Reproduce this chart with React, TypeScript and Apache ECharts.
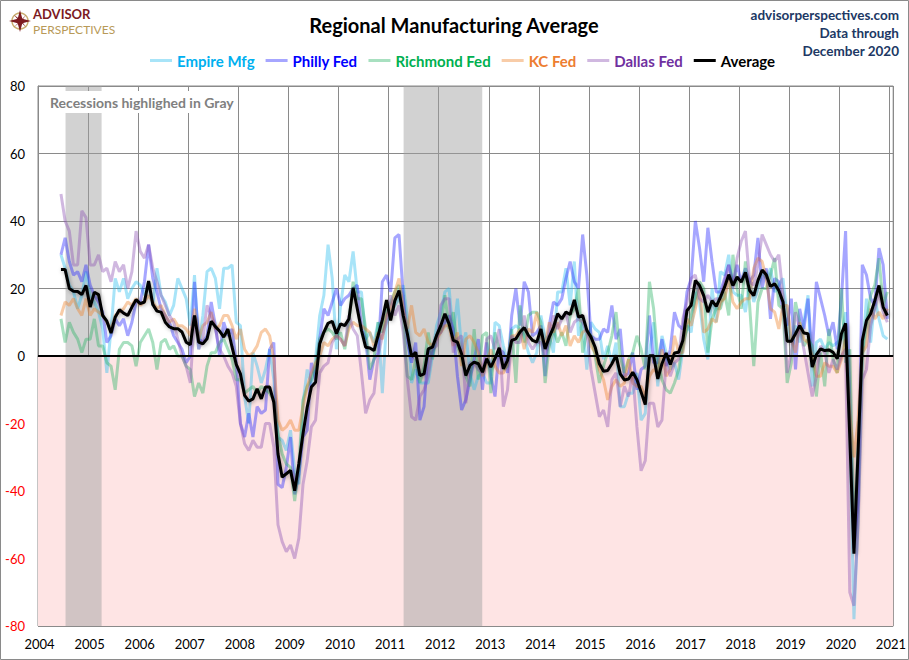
import React, { useEffect, useRef } from 'react';
import * as echarts from 'echarts';

// monthly survey readings, Jun 2004 .. Dec 2020
const empire = [
  30, 26, 21, 19, 14, 18, 25,
  18, 16, 13, 8, -5, 8, 23, 19, 23, 17, 20, 22,
  21, 18, 22, 15, 26, 18, 16, 12, 15, 23, 20, 17,
  9, 24, 2, 12, 25, 26, 23, 14, 26, 26, 27, 10,
  9, -12, -20, 1, -3, -8, -4, 2, -7, -24, -25, -28,
  -22, -34, -38, -14, -4, -9, -1, 12, 18, 33, 23, 2,
  15, 24, 22, 31, 19, 19, 5, 7, 4, 10, -11, 10,
  12, 15, 17, 21, 11, -8, -4, -8, -8, -8, 0, 9,
  13, 19, 20, 6, 17, 2, 7, -5, -10, -6, -5, -8,
  -8, 10, 9, 3, -2, 8, 9, 8, 6, 1, -2, 1,
  12, 5, 6, 1, 19, 19, 26, 15, 28, 6, 10, -4,
  10, 8, 7, -1, 3, -2, 4, -15, -15, -11, -11, -5,
  -19, -17, 1, 10, -9, 6, 1, -4, -2, -7, 2, 9,
  7, 19, 16, 5, -1, 20, 10, 25, 24, 30, 19, 18,
  18, 13, 22, 16, 20, 25, 23, 26, 19, 21, 23, 11,
  4, 9, 4, 10, 18, -9, 4, 5, 2, 4, 3, 4,
  5, 13, -22, -78, -48, 0, 17, 4, 17, 11, 6, 5,
];

const philly = [
  30, 35, 28, 24, 25, 22, 27,
  21, 18, 16, 13, 4, 6, 11, 9, 11, 6, 10, 16,
  16, 22, 33, 23, 19, 14, 12, 10, 6, 4, 2, -2,
  0, 22, 5, 4, 6, 16, 9, 0, 10, 6, 8, -2,
  -20, -24, -17, -24, -15, -17, -16, 2, 4, -38, -39, -33,
  -24, -41, -35, -24, -22, -2, -7, 5, 14, 12, 16, 20,
  15, 17, 18, 20, 21, 8, 5, -7, -1, 1, 22, 24,
  19, 35, 36, 18, 4, -2, 4, -19, -15, 2, 0, 6,
  7, 10, 12, 8, -6, -16, -13, -7, -1, 5, -10, 4,
  -6, -12, 2, 1, -5, 12, 20, 9, 22, 19, 6, 7,
  9, -6, 9, 16, 15, 17, 23, 28, 22, 20, 36, 24,
  6, 5, 5, 8, 7, 15, 5, 8, -6, -5, 1, -10,
  -4, -3, 12, -2, -2, 5, -3, 2, 13, 9, 8, 19,
  23, 40, 32, 22, 38, 28, 19, 19, 23, 27, 22, 27,
  22, 26, 22, 24, 35, 20, 26, 11, 23, 22, 13, 9,
  17, -4, 14, 8, 17, 0, 22, 17, 12, 6, 10, 2,
  17, 37, -13, -57, -43, 27, 24, 17, 15, 32, 27, 11,
];

const richmond = [
  11, 4, 10, 7, 5, 1, 5,
  5, 11, 3, 3, -2, -3, -10, 2, 4, 4, 3, -3,
  4, 6, 8, 4, -4, 4, 5, 2, 3, 0, 0, -3,
  -4, -12, -8, -11, -3, 1, 1, 4, 5, 2, -1, -7,
  -7, -11, -10, -9, -11, -9, -10, -11, -13, -23, -29, -32,
  -33, -43, -33, -13, -9, -7, -3, 5, 7, 8, 7, 5,
  7, 2, 10, 22, 17, 17, 8, -4, -1, 10, 7, 14,
  16, 19, 21, 10, -6, -7, -1, -8, -3, 7, -1, 6,
  8, 18, 8, 13, 3, -1, -6, -9, 8, -7, 6, 7,
  -11, 7, 2, -4, -3, 8, -8, 15, 4, 12, 13, 13,
  10, -8, 3, 8, 4, 7, 3, 12, 14, 20, 1, 7,
  6, 0, -8, -3, 1, 6, 13, 0, -5, -1, 1, 6,
  2, -4, 22, 14, -1, -7, -10, -11, -8, -4, 4, 8,
  12, 17, 22, 20, 1, 11, 14, 14, 19, 12, 30, 20,
  14, 28, 15, -3, 16, 20, 20, 24, 29, 15, 14, -8,
  -2, 16, 10, 3, 5, 3, -12, 1, -9, 8, -1, -5,
  20, -2, 2, -53, -27, 0, 10, 18, 21, 29, 15, 19,
];

const kc = [
  12, 16, 15, 17, 14, 12, 17,
  12, 14, 13, 12, 10, 8, 12, 13, 14, 16, 15, 17,
  15, 16, 18, 16, 14, 15, 12, 10, 11, 9, 9, 8,
  6, 14, 5, 9, 10, 13, 8, 9, 12, 12, 9, 5,
  8, 2, 0, 1, 3, 7, 8, 6, -1, -19, -22, -21,
  -19, -22, -22, -15, -9, -5, -2, 0, 4, 3, 5, 6,
  5, 3, 8, 10, 9, 9, 8, 7, 3, 7, 5, 12,
  14, 19, 23, 14, 8, 15, 7, 6, 8, 4, 3, 5,
  7, 9, 9, 3, 7, -3, 5, 6, 4, 1, -6, -2,
  2, -3, -5, -5, -2, 6, 6, 8, 2, 8, 7, 13,
  6, 3, 10, 7, 10, 6, 9, 3, 6, 4, 7, 8,
  3, 1, -4, -7, -13, -9, -7, -9, -8, -1, -8, -9,
  -9, -12, -6, -4, -5, 2, -6, -4, 6, 1, 1, 11,
  9, 14, 20, 7, 8, 11, 10, 16, 17, 23, 16, 14,
  16, 17, 17, 26, 29, 28, 23, 14, 13, 8, 15, 15,
  5, 1, 10, 5, 4, 0, -6, -6, -2, -3, -3, -5,
  -1, 5, -17, -30, -19, 1, 3, 14, 11, 13, 11, 14,
];

const dallas = [
  48, 40, 37, 27, 27, 43, 41,
  27, 27, 30, 25, 26, 22, 28, 25, 27, 20, 25, 37,
  31, 29, 33, 26, 22, 18, 15, 12, 10, 5, 0, -3,
  -8, 12, 2, 5, 15, 12, 8, 2, 0, -3, -5, -9,
  -20, -26, -28, -25, -27, -27, -20, -20, -27, -50, -55, -58,
  -56, -60, -54, -38, -31, -21, -19, -5, -3, -2, 4, 6,
  5, 3, 12, 8, 6, -5, -17, -13, -11, 0, 6, 10,
  18, 12, 15, 7, -7, -18, -19, -12, -10, -6, 2, 3,
  15, 17, 17, 1, 5, 6, -14, -2, -2, -4, -5, 5,
  6, 2, 8, -15, -10, 6, 4, 4, 12, 4, 2, 4,
  4, 0, 5, 12, 8, 11, 13, 7, 10, 11, 10, 7,
  -4, -11, -18, -16, -21, -7, -5, -15, -9, -12, -5, -21,
  -34, -31, -14, -14, -21, -19, -2, -6, -2, -1, 11, 16,
  23, 24, 17, 16, 18, 16, 17, 17, 22, 27, 20, 29,
  34, 37, 22, 21, 27, 36, 33, 30, 28, 30, 18, -5,
  1, 13, 8, 2, -5, -12, -6, 3, 1, -5, -1, -4,
  0, 2, -70, -74, -50, -7, -4, 9, 14, 19, 13, 10,
];

const average = [
  25.6, 25.6, 20, 19.2, 19.1, 18.2, 20.9,
  14.5, 18.9, 18.2, 12, 10.3, 6.8, 11.5, 13.7, 12.7, 12, 14.5, 16.7,
  15.5, 16, 22.2, 15.3, 13.3, 13, 10, 8.6, 8.1, 8.1, 7.1, 4.1,
  3.3, 12, 4.1, 3.6, 5.1, 10.3, 8.7, 7.4, 5.6, 8, 2.6, -2.5,
  -5.3, -11.7, -13.4, -12.7, -9.7, -12.7, -9.2, -9.2, -13.7, -29, -35.9, -34.9,
  -33.9, -39.9, -31.9, -23, -15.2, -9.2, -7.8, 3.6, 7.1, 9.7, 10.3, 6.6,
  9.5, 9, 11, 20.2, 14, 7.6, 2.6, 2.4, 1.6, 6.1, 10.7, 16.6,
  10.5, 16.4, 19.4, 12, 6.6, -0.1, 1.1, -5.8, -5.3, 2.1, 2.6, 6.1,
  9, 12.5, 9.5, 4.6, 4.1, 0.6, -5.8, -2.8, -1.8, -2.3, -4.8, -0.8,
  -3.3, -0.8, 2.4, -3.8, -1.3, 4.6, 5.1, 7.1, 8.4, 6.1, 4.6, 4.1,
  8, 2.1, 5.6, 8.5, 12.5, 11, 13, 12.3, 16.6, 11.5, 12, 7.6,
  5.6, 2.6, -2.3, -4.5, -4.3, -2.3, 0.2, -5.3, -7.1, -6.8, -4.8, -7,
  -10.7, -14.4, 0.1, 0.1, -6.8, -2.3, 0.9, -2.5, 0.9, 1.1, 4.6, 13.5,
  15, 22.4, 20.9, 17.9, 13, 16.4, 14.7, 17.4, 20.4, 24.1, 20.9, 23.4,
  21.9, 24.8, 19.4, 17.9, 22.4, 25.5, 24.1, 20.6, 21.4, 19.4, 16, 4.4,
  4.4, 6.6, 9, 6.8, 6.6, -3.3, 0.4, 2.1, 1.6, 1.8, 1.1, -0.8,
  6.6, 9.7, -24, -58.6, -28, 4.6, 10.5, 12.5, 16.4, 20.9, 14.5, 12,
];

// shaded periods, in decimal years
const recessions: [number, number][] = [
  [2004.55, 2005.27],
  [2011.3, 2012.87],
];

const yTicks = { min: -80, max: 80, step: 20 };

const FIRST_YEAR = 2004;
const FIRST_MONTH = 6;
const months = average.map((_, i) => {
  const n = FIRST_MONTH - 1 + i;
  return `${FIRST_YEAR + Math.floor(n / 12)}-${String((n % 12) + 1).padStart(2, '0')}`;
});

const toYear = (m: string) => {
  const [y, mo] = m.split('-').map(Number);
  return y + (mo - 0.5) / 12;
};
const pairs = (vals: number[]) => vals.map((v, i) => [toYear(months[i]), v]);

const FONT = 'Lato, "Open Sans", sans-serif';

const regional = [
  { name: 'Empire Mfg', data: empire, line: '#25bbed', icon: '#a8e4f8', text: '#00b0f0' },
  { name: 'Philly Fed', data: philly, line: '#2020ff', icon: '#a6a6ff', text: '#0000ff' },
  { name: 'Richmond Fed', data: richmond, line: '#25b161', icon: '#a8e0c0', text: '#00b050' },
  { name: 'KC Fed', data: kc, line: '#ed7f25', icon: '#f8cca8', text: '#ed7d31' },
  { name: 'Dallas Fed', data: dallas, line: '#894db1', icon: '#d0b8e0', text: '#7030a0' },
];

const App: React.FC = () => {
  const chartRef = useRef<HTMLDivElement | null>(null);

  useEffect(() => {
    const chart = echarts.init(chartRef.current!, null, { renderer: 'svg' });

    const option = {
      animation: false,
      grid: { left: 38, right: 15, top: 86, bottom: 34, show: true, borderColor: '#8a8a8a', borderWidth: 1 },
      legend: {
        left: 150,
        top: 53,
        padding: 0,
        icon: 'rect',
        itemWidth: 22,
        itemHeight: 3,
        itemGap: 11,
        textStyle: { fontFamily: FONT, fontWeight: 'bold', fontSize: 15 },
        data: [
          ...regional.map((s) => ({ name: s.name, itemStyle: { color: s.icon }, textStyle: { color: s.text } })),
          { name: 'Average', itemStyle: { color: '#000' }, textStyle: { color: '#000' } },
        ],
      },
      xAxis: {
        type: 'value',
        min: 2004,
        max: 2021.075,
        interval: 1,
        axisLine: { show: true, lineStyle: { color: '#8a8a8a' } },
        axisTick: { show: false },
        splitLine: { show: true, lineStyle: { color: '#8a8a8a', width: 1 } },
        axisLabel: {
          margin: 11,
          fontFamily: FONT,
          fontSize: 13,
          color: '#000',
          padding: [0, 0, 0, 3],
          formatter: (v: number) => (Number.isInteger(v) ? String(v) : ''),
        },
      },
      yAxis: {
        type: 'value',
        min: yTicks.min,
        max: yTicks.max,
        interval: yTicks.step,
        axisLine: { show: true, lineStyle: { color: '#8a8a8a' } },
        axisTick: { show: false },
        splitLine: { show: true, lineStyle: { color: '#8a8a8a', width: 1 } },
        axisLabel: {
          margin: 13,
          fontFamily: FONT,
          fontSize: 13,
          color: (v: string) => (Number(v) < 0 ? '#ff0000' : '#000'),
        },
      },
      series: [
        {
          name: 'bg',
          type: 'line',
          data: [],
          z: -1,
          silent: true,
          markArea: {
            silent: true,
            data: [
              [{ yAxis: yTicks.min, itemStyle: { color: '#fee4e4' } }, { yAxis: 0 }],
              ...recessions.map(([a, b]) => [
                { xAxis: a, itemStyle: { color: 'rgba(160,160,160,0.47)' } },
                { xAxis: b },
              ]),
            ],
          },
        },
        ...regional.map((s) => ({
          name: s.name,
          type: 'line',
          data: pairs(s.data),
          symbol: 'none',
          z: 2,
          itemStyle: { color: s.line },
          lineStyle: { color: s.line, width: 3, opacity: 0.4 },
        })),
        {
          name: 'zero',
          type: 'line',
          data: [],
          z: 3,
          markLine: {
            silent: true,
            symbol: ['none', 'none'],
            label: { show: false },
            lineStyle: { color: '#000', width: 2, type: 'solid' },
            data: [{ yAxis: 0 }],
          },
        },
        {
          name: 'Average',
          type: 'line',
          data: pairs(average),
          symbol: 'none',
          z: 5,
          itemStyle: { color: '#000' },
          lineStyle: {
            color: '#000',
            width: 3,
            shadowColor: 'rgba(0,0,0,0.35)',
            shadowBlur: 4,
            shadowOffsetX: 1,
            shadowOffsetY: 1,
          },
        },
      ],
      graphic: [
        {
          type: 'rect',
          z: 20,
          silent: true,
          shape: { x: 0.5, y: 0.5, width: 908, height: 659 },
          style: { fill: 'none', stroke: '#8a8a8a', lineWidth: 1 },
        },
        // logo
        { type: 'circle', z: 20, shape: { cx: 20, cy: 21, r: 8 }, style: { fill: 'none', stroke: '#c9ac6e', lineWidth: 1.5 } },
        {
          type: 'polygon',
          z: 21,
          shape: {
            points: [[20, 10], [22.3, 18.7], [31, 21], [22.3, 23.3], [20, 32], [17.7, 23.3], [9, 21], [17.7, 18.7]],
          },
          style: { fill: '#7d1a1f' },
        },
        {
          type: 'polygon',
          z: 21,
          shape: {
            points: [[14, 15], [21, 20], [26, 15], [21.5, 21], [26, 27], [20.5, 22], [14, 27], [19.5, 21.5]],
          },
          style: { fill: '#7d1a1f' },
        },
        {
          type: 'text',
          z: 21,
          x: 33,
          y: 13.5,
          style: { text: 'ADVISOR', font: `bold 13px ${FONT}`, fill: '#7d1a1f', textVerticalAlign: 'middle' },
        },
        {
          type: 'text',
          z: 21,
          x: 33,
          y: 29,
          style: { text: 'PERSPECTIVES', font: `12px ${FONT}`, fill: '#b89a58', textVerticalAlign: 'middle' },
        },
        // title
        {
          type: 'text',
          z: 21,
          x: 454,
          y: 25,
          style: {
            text: 'Regional Manufacturing Average',
            font: `bold 20px ${FONT}`,
            fill: '#000',
            textAlign: 'center',
            textVerticalAlign: 'middle',
          },
        },
        // source notes
        {
          type: 'text',
          z: 21,
          x: 899,
          y: 15,
          style: { text: 'advisorperspectives.com', font: `bold 13.5px ${FONT}`, fill: '#203864', textAlign: 'right', textVerticalAlign: 'middle' },
        },
        {
          type: 'text',
          z: 21,
          x: 899,
          y: 33,
          style: { text: 'Data through', font: `bold 13.5px ${FONT}`, fill: '#203864', textAlign: 'right', textVerticalAlign: 'middle' },
        },
        {
          type: 'text',
          z: 21,
          x: 899,
          y: 51,
          style: { text: 'December 2020', font: `bold 13.5px ${FONT}`, fill: '#203864', textAlign: 'right', textVerticalAlign: 'middle' },
        },
        // shading note
        {
          type: 'rect',
          z: 20,
          silent: true,
          shape: { x: 46, y: 91, width: 190, height: 22 },
          style: { fill: '#fff' },
        },
        {
          type: 'text',
          z: 21,
          x: 50,
          y: 102,
          style: { text: 'Recessions highlighed in Gray', font: `bold 14px ${FONT}`, fill: '#808080', textVerticalAlign: 'middle' },
        },
      ],
    };

    chart.setOption(option);

    return () => {
      chart.dispose();
    };
  }, []);

  return (
    <div
      ref={chartRef}
      style={{ position: 'absolute', left: 0, top: 0, width: '909px', height: '660px', background: '#fff' }}
    />
  );
};

export default App;
